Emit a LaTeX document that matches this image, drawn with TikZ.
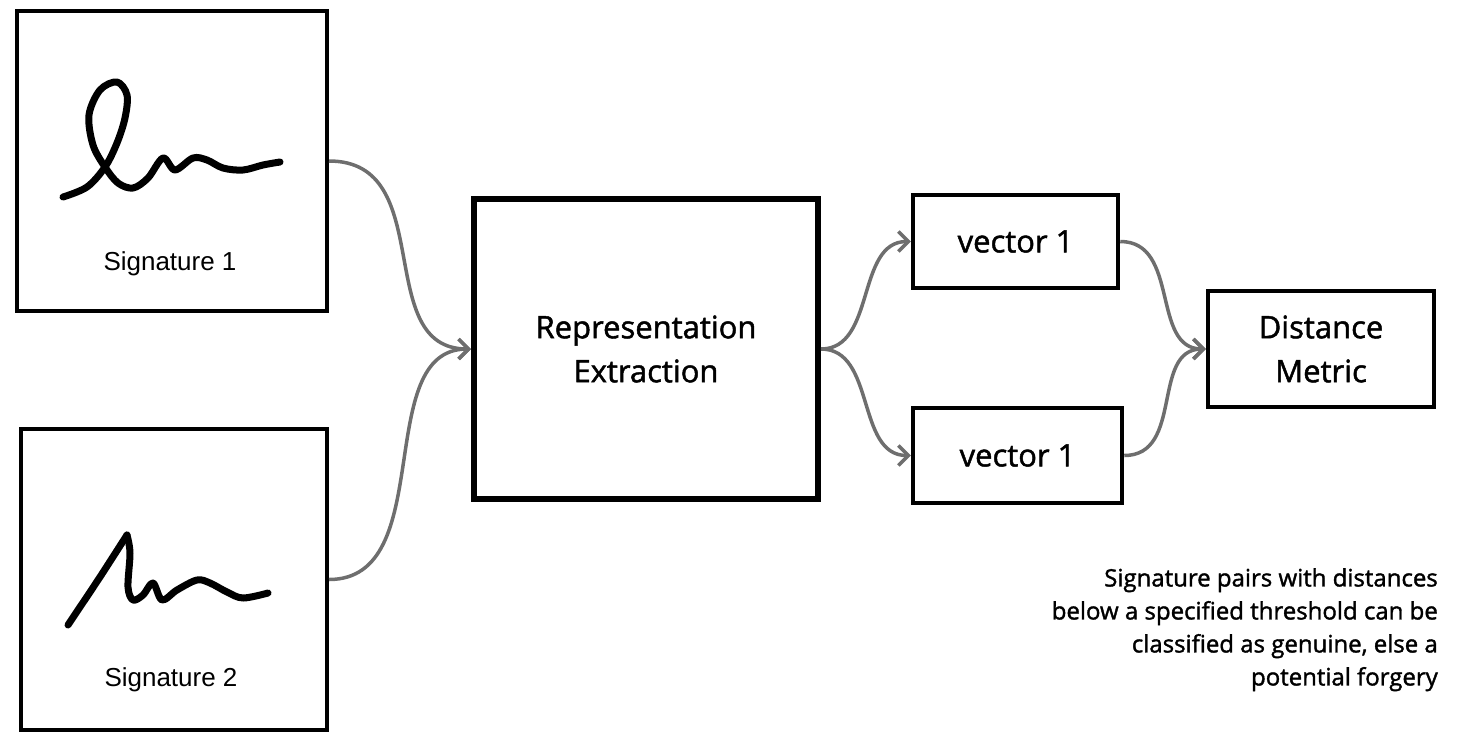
\documentclass[tikz,border=0pt]{standalone}
\usepackage{fontspec}
\setmainfont{Open Sans}
\newfontfamily\comicfont[FakeBold=1.5]{Open Sans}
\newfontfamily\arialfont{Liberation Sans}
\usetikzlibrary{arrows.meta}
\definecolor{conngray}{HTML}{6E6E6E}
\tikzset{
  box/.style={draw=black, line width=4pt, rectangle, inner sep=0pt},
  thickbox/.style={draw=black, line width=6pt, rectangle, inner sep=0pt, align=center, font=\comicfont\fontsize{31}{44}\selectfont},
  vecbox/.style={draw=black, line width=4.5pt, rectangle, inner sep=0pt, align=center, font=\comicfont\fontsize{31}{44}\selectfont},
  conn/.style={draw=conngray, line width=3.5pt, -{Straight Barb[length=10pt,width=20pt,line width=3.5pt]}},
  sig/.style={line width=7pt, line cap=round, line join=round},
  siglabel/.style={font=\arialfont\fontsize{26}{30}\selectfont},
}
\begin{document}
\begin{tikzpicture}[x=1pt,y=-1pt]
\useasboundingbox (0,0) rectangle (1472,740);
% boxes
\node[box, minimum width=310pt, minimum height=300pt] (sig1) at (172,161) {};
\node[box, minimum width=306pt, minimum height=301pt] (sig2) at (174,579.5) {};
\node[thickbox, minimum width=344pt, minimum height=300pt] (rep) at (646,349) {Representation\\Extraction};
\node[vecbox, minimum width=205pt, minimum height=93pt] (vec1) at (1015.5,241.5) {vector 1};
\node[vecbox, minimum width=209pt, minimum height=95pt] (vec2) at (1017.5,455.5) {vector 1};
\node[vecbox, minimum width=226pt, minimum height=116pt] (dist) at (1321,349) {Distance\\Metric};
% labels
\node[siglabel] (l1) at (170,264) {Signature 1};
\node[siglabel] (l2) at (171,680) {Signature 2};
\node[anchor=north east, align=right, font=\comicfont\fontsize{24}{33}\selectfont, inner sep=0pt] (note) at (1438,568)
  {Signature pairs with distances\\below a specified threshold can be\\classified as genuine, else a\\potential forgery};
% signatures
\draw[sig] plot[smooth, tension=0.55] coordinates {(63,197) (87,187) (105,167) (117,143) (125,118) (127,95) (117,82) (100,90) (89,115) (93,145) (105,167) (118,183) (133,188) (148,178) (163,158) (175,170) (193,158) (207,160) (223,168) (243,170) (263,165) (280,162)};
\draw[sig] plot[smooth, tension=0.3] coordinates {(68,625) (100,577) (127,535)};
\draw[sig] plot[smooth, tension=0.55] coordinates {(127,535) (130,553) (128,587) (133,600) (143,595) (153,583) (162,600) (177,590) (197,580) (210,583) (227,592) (243,598) (268,593)};
% connectors
\draw[conn] (sig1.east) .. controls +(110,0) and +(-100,0) .. (rep.west);
\draw[conn] (sig2.east) .. controls +(110,0) and +(-100,0) .. (rep.west);
\draw[conn] (rep.east) .. controls +(55,0) and +(-55,0) .. (vec1.west);
\draw[conn] (rep.east) .. controls +(55,0) and +(-55,0) .. (vec2.west);
\draw[conn] (vec1.east) .. controls +(60,0) and +(-55,0) .. (dist.west);
\draw[conn] (vec2.east) .. controls +(60,0) and +(-55,0) .. (dist.west);
\end{tikzpicture}
\end{document}
